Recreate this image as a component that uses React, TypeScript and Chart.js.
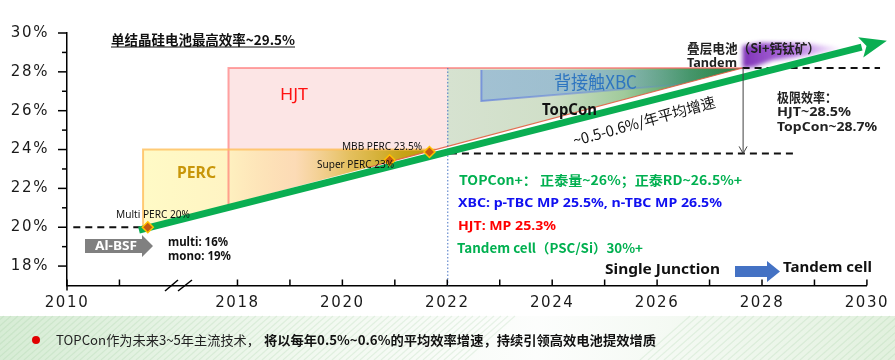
import React, { useEffect, useRef } from 'react';
import { Chart, registerables } from 'chart.js';

Chart.register(...registerables);

// ---------- axis data ----------
const X_TICK_YEARS = [2010, 2011, 2018, 2019, 2020, 2021, 2022, 2023, 2024, 2025, 2026, 2027, 2028, 2029, 2030];
const X_TICK_LABELS = ['2010', '', '2018', '', '2020', '', '2022', '', '2024', '', '2026', '', '2028', '', '2030'];
const Y_MIN = 17;
const Y_MAX = 30;
const Y_STEP = 1;

// broken x axis: real years -> axis units
const BREAK_REAL = [2010, 2011, 2015.5, 2018, 2031];
const BREAK_AXIS = [2014.75, 2015.75, 2016.29, 2018, 2031];

// ---------- series ----------
const TREND_YEARS = [2014.1, 2029.9];
const TREND_EFF = [19.85, 29.27];

const MILESTONE_NAMES = ['Multi PERC 20%', 'Super PERC 23%', 'MBB PERC 23.5%'];
const MILESTONE_YEARS = [2015.5, 2020.9, 2021.66];
const MILESTONE_EFF = [20.0, 23.45, 23.87];

const ZONE_NAMES = ['PERC', 'HJT', 'TopCon'];
const ZONE_START = [2014.75, 2017.75, 2022];
const ZONE_END = [2022, 2022, 2027.63];
const ZONE_TOP = [24, 28.2, 28.2];

const FRONTIER_YEARS = [2014.75, 2027.63];
const FRONTIER_EFF = [20.0, 28.2];

const XBC_YEARS = [2022.65, 2027.63];
const XBC_TOP = [28.1, 28.1];
const XBC_BOTTOM = [26.5, 27.6];

const TANDEM_YEARS = [2027.63, 2027.63, 2028.0, 2028.9, 2029.55, 2028.9, 2028.2, 2027.85];
const TANDEM_EFF = [28.2, 29.35, 29.5, 29.45, 29.2, 28.85, 28.6, 28.25];

const BASE_EFF = 20;
const BASE_YEARS = [2010.12, 2014.7];
const CURRENT_EFF = 23.8;
const CURRENT_YEARS = [2022.05, 2028.65];
const LIMIT_EFF = 28.2;
const LIMIT_YEARS = [2027.63, 2030.25];
const NOW_YEAR = 2022;

function toAxis(year: number): number {
  const n = BREAK_REAL.length;
  for (let i = 0; i < n - 1; i++) {
    if (year <= BREAK_REAL[i + 1] || i === n - 2) {
      const t = (year - BREAK_REAL[i]) / (BREAK_REAL[i + 1] - BREAK_REAL[i]);
      return BREAK_AXIS[i] + t * (BREAK_AXIS[i + 1] - BREAK_AXIS[i]);
    }
  }
  return year;
}

// ---------- styles ----------
const LAT = '"Noto Sans", "Noto Sans CJK SC", sans-serif';
const CJK = '"Noto Sans CJK SC", "Noto Sans", sans-serif';
const GREEN = '#0aae52';

type Note = { s: string; x: number; y: number; font: string; color: string; w?: number };
const NOTES: Note[] = [
  { s: 'HJT', x: 280, y: 95, font: `400 17px ${LAT}`, color: '#ff1010', w: 28 },
  { s: 'PERC', x: 177, y: 173, font: `700 16px ${LAT}`, color: '#c8960a', w: 39 },
  { s: '背接触XBC', x: 554, y: 82, font: `400 18px ${CJK}`, color: '#2e75c0', w: 83 },
  { s: 'TopCon', x: 542, y: 110, font: `700 16px ${LAT}`, color: '#111', w: 55 },
  { s: 'Multi PERC 20%', x: 116, y: 215.5, font: `400 10px ${LAT}`, color: '#111', w: 74 },
  { s: 'Super PERC 23%', x: 317, y: 165, font: `400 10px ${LAT}`, color: '#111', w: 77 },
  { s: 'MBB PERC 23.5%', x: 342, y: 147, font: `400 10px ${LAT}`, color: '#111', w: 80 },
  { s: 'multi: 16%', x: 168, y: 243, font: `700 12px ${LAT}`, color: '#111', w: 60 },
  { s: 'mono: 19%', x: 168, y: 257, font: `700 12px ${LAT}`, color: '#111', w: 63 },
  { s: 'Al-BSF', x: 95, y: 246.5, font: `700 13px ${LAT}`, color: '#fff', w: 42 },
  { s: '叠层电池（Si+钙钛矿）', x: 687, y: 48, font: `700 13px ${CJK}`, color: '#222', w: 133 },
  { s: 'Tandem', x: 687, y: 63, font: `700 13px ${LAT}`, color: '#222', w: 50 },
  { s: '极限效率：', x: 777, y: 97, font: `700 13px ${CJK}`, color: '#222', w: 60 },
  { s: 'HJT~28.5%', x: 777, y: 112, font: `700 13px ${LAT}`, color: '#222', w: 74 },
  { s: 'TopCon~28.7%', x: 777, y: 127, font: `700 13px ${LAT}`, color: '#222', w: 100 },
  { s: 'TOPCon+： 正泰量~26%；正泰RD~26.5%+', x: 459, y: 180, font: `700 13px ${CJK}`, color: '#00b050', w: 283 },
  { s: 'XBC: p-TBC MP 25.5%, n-TBC MP 26.5%', x: 458, y: 203, font: `700 13px ${LAT}`, color: '#1010f0', w: 264 },
  { s: 'HJT: MP 25.3%', x: 458, y: 226, font: `700 13px ${LAT}`, color: '#ff0000', w: 98 },
  { s: 'Tandem cell（PSC/Si）30%+', x: 457, y: 248, font: `700 13px ${CJK}`, color: '#00b050', w: 186 },
  { s: 'Single Junction', x: 605, y: 270, font: `700 15px ${LAT}`, color: '#111', w: 115 },
  { s: 'Tandem cell', x: 783, y: 268, font: `700 15px ${LAT}`, color: '#111', w: 89 },
  { s: 'TOPCon作为未来3~5年主流技术，', x: 56, y: 340, font: `400 13px ${CJK}`, color: '#222', w: 204 },
  { s: '将以每年0.5%~0.6%的平均效率增速，持续引领高效电池提效增质', x: 264, y: 340, font: `700 13px ${CJK}`, color: '#111', w: 392 },
];
const TITLE = '单结晶硅电池最高效率~29.5%';
const RATE_NOTE = '~0.5-0.6%/年平均增速';

function drawText(ctx: CanvasRenderingContext2D, n: Note) {
  ctx.save();
  ctx.font = n.font;
  ctx.fillStyle = n.color;
  ctx.textBaseline = 'middle';
  ctx.textAlign = 'left';
  const m = ctx.measureText(n.s).width;
  const sx = n.w ? n.w / m : 1;
  ctx.translate(n.x, n.y);
  ctx.scale(sx, 1);
  ctx.fillText(n.s, 0, 0);
  ctx.restore();
}

function line(ctx: CanvasRenderingContext2D, x0: number, y0: number, x1: number, y1: number) {
  ctx.beginPath();
  ctx.moveTo(x0, y0);
  ctx.lineTo(x1, y1);
  ctx.stroke();
}

const decor = {
  id: 'decor',
  beforeDraw(chart: any) {
    const ctx: CanvasRenderingContext2D = chart.ctx;
    const W = chart.width, H = chart.height;
    ctx.save();
    ctx.fillStyle = '#fff';
    ctx.fillRect(0, 0, W, H);
    const g = ctx.createLinearGradient(0, 0, W, 0);
    g.addColorStop(0, 'rgba(210,234,208,0.9)');
    g.addColorStop(0.35, 'rgba(238,247,236,0.8)');
    g.addColorStop(0.6, 'rgba(250,252,250,0.6)');
    g.addColorStop(1, 'rgba(222,239,218,0.9)');
    ctx.fillStyle = g;
    ctx.fillRect(0, 316, W, H - 316);
    ctx.strokeStyle = 'rgba(140,195,140,0.18)';
    ctx.lineWidth = 1.2;
    for (let i = -60; i < 470; i += 7) line(ctx, i, H, i + 50, 316);
    for (let i = 640; i < 950; i += 8) line(ctx, i, H, i + 50, 316);
    ctx.restore();
    (ctx as any).letterSpacing = '1.6px';
  },
  beforeDatasetsDraw(chart: any) {
    const ctx: CanvasRenderingContext2D = chart.ctx;
    (ctx as any).letterSpacing = '0px';
    const xs = chart.scales.x, ys = chart.scales.y, ca = chart.chartArea;
    const X = (yr: number) => xs.getPixelForValue(toAxis(yr));
    const Y = (v: number) => ys.getPixelForValue(v);
    const f0 = [X(FRONTIER_YEARS[0]), Y(FRONTIER_EFF[0])];
    const f1 = [X(FRONTIER_YEARS[1]), Y(FRONTIER_EFF[1])];
    const fy = (px: number) => f0[1] + (px - f0[0]) * (f1[1] - f0[1]) / (f1[0] - f0[0]);
    const fx = (py: number) => f0[0] + (py - f0[1]) * (f1[0] - f0[0]) / (f1[1] - f0[1]);

    ctx.save();
    ctx.beginPath();
    ctx.moveTo(f0[0], f0[1]);
    ctx.lineTo(f1[0], f1[1]);
    ctx.lineTo(f1[0], 0);
    ctx.lineTo(0, 0);
    ctx.lineTo(0, f0[1]);
    ctx.closePath();
    ctx.clip();
    for (const i of [1, 2, 0]) {
      const x0 = X(ZONE_START[i]), x1 = X(ZONE_END[i]), yt = Y(ZONE_TOP[i]);
      let fill: any = '#fce5e5';
      if (ZONE_NAMES[i] === 'TopCon') {
        const g = ctx.createLinearGradient(x0, 0, x1, 0);
        g.addColorStop(0, 'rgb(214,226,208)');
        g.addColorStop(0.35, 'rgb(208,223,200)');
        g.addColorStop(0.6, 'rgb(160,202,155)');
        g.addColorStop(0.82, 'rgb(70,155,90)');
        g.addColorStop(1, 'rgb(35,125,65)');
        fill = g;
      } else if (ZONE_NAMES[i] === 'PERC') {
        const g = ctx.createLinearGradient(x0, 0, x1, 0);
        g.addColorStop(0, 'rgba(255,250,195,0.95)');
        g.addColorStop(0.28, 'rgba(255,242,185,0.85)');
        g.addColorStop(0.5, 'rgba(252,212,150,0.6)');
        g.addColorStop(0.68, 'rgba(222,182,60,0.8)');
        g.addColorStop(0.85, 'rgba(196,160,12,0.95)');
        g.addColorStop(1, 'rgba(185,150,0,1)');
        fill = g;
      }
      ctx.fillStyle = fill;
      ctx.fillRect(x0, yt, x1 - x0, ca.bottom - yt);
    }
    // XBC zone
    {
      const a = [X(XBC_YEARS[0]), Y(XBC_TOP[0])];
      const b = [X(XBC_YEARS[1]), Y(XBC_TOP[1])];
      const c = [X(XBC_YEARS[1]), Y(XBC_BOTTOM[1])];
      const d = [X(XBC_YEARS[0]), Y(XBC_BOTTOM[0])];
      const g = ctx.createLinearGradient(a[0], 0, b[0], 0);
      g.addColorStop(0, 'rgba(145,182,212,0.75)');
      g.addColorStop(0.45, 'rgba(125,170,210,0.6)');
      g.addColorStop(0.8, 'rgba(70,135,160,0.25)');
      g.addColorStop(1, 'rgba(40,120,90,0)');
      ctx.fillStyle = g;
      ctx.beginPath();
      ctx.moveTo(a[0], a[1]); ctx.lineTo(b[0], b[1]); ctx.lineTo(c[0], c[1]); ctx.lineTo(d[0], d[1]);
      ctx.closePath();
      ctx.fill();
      const gs = ctx.createLinearGradient(a[0], 0, b[0], 0);
      gs.addColorStop(0, 'rgba(100,130,220,0.75)');
      gs.addColorStop(0.6, 'rgba(100,130,220,0.35)');
      gs.addColorStop(1, 'rgba(100,130,220,0)');
      ctx.strokeStyle = gs;
      ctx.lineWidth = 2;
      ctx.beginPath();
      ctx.moveTo(a[0], a[1]); ctx.lineTo(d[0], d[1]); ctx.lineTo(c[0], c[1]);
      ctx.stroke();
    }
    ctx.restore();

    // zone borders
    ctx.save();
    {
      const x0 = X(ZONE_START[1]), yt = Y(ZONE_TOP[1]);
      ctx.strokeStyle = 'rgba(255,105,105,0.6)';
      ctx.lineWidth = 2;
      ctx.beginPath();
      ctx.moveTo(x0, fy(x0)); ctx.lineTo(x0, yt); ctx.lineTo(f1[0], yt);
      ctx.stroke();
    }
    {
      const x0 = X(ZONE_START[0]), yt = Y(ZONE_TOP[0]);
      ctx.strokeStyle = 'rgba(255,190,90,0.8)';
      ctx.lineWidth = 2;
      ctx.beginPath();
      ctx.moveTo(x0, fy(x0)); ctx.lineTo(x0, yt); ctx.lineTo(fx(yt), yt);
      ctx.stroke();
    }
    ctx.strokeStyle = 'rgba(225,95,65,0.9)';
    ctx.lineWidth = 1.2;
    const fs = X(2020.5);
    line(ctx, fs, fy(fs), f1[0], f1[1]);

    // tandem glow
    ctx.filter = 'blur(2px)';
    const tg = ctx.createLinearGradient(X(TANDEM_YEARS[0]), 0, X(2029.55), 0);
    tg.addColorStop(0, 'rgba(120,40,180,0.95)');
    tg.addColorStop(0.5, 'rgba(155,75,212,0.8)');
    tg.addColorStop(1, 'rgba(200,140,240,0.1)');
    ctx.fillStyle = tg;
    ctx.beginPath();
    TANDEM_YEARS.forEach((yr, i) => {
      const px = X(yr), py = Y(TANDEM_EFF[i]);
      if (i === 0) ctx.moveTo(px, py); else ctx.lineTo(px, py);
    });
    ctx.closePath();
    ctx.fill();
    ctx.filter = 'none';

    // dashed reference lines
    ctx.strokeStyle = '#111';
    ctx.lineWidth = 2;
    ctx.setLineDash([7, 5]);
    line(ctx, X(BASE_YEARS[0]), Y(BASE_EFF), X(BASE_YEARS[1]), Y(BASE_EFF));
    line(ctx, X(CURRENT_YEARS[0]), Y(CURRENT_EFF), X(CURRENT_YEARS[1]), Y(CURRENT_EFF));
    line(ctx, X(LIMIT_YEARS[0]), Y(LIMIT_EFF), X(LIMIT_YEARS[1]), Y(LIMIT_EFF));
    // now line
    ctx.strokeStyle = '#4472c4';
    ctx.lineWidth = 1;
    ctx.setLineDash([1.5, 2]);
    line(ctx, X(NOW_YEAR) + 0.5, Y(LIMIT_EFF), X(NOW_YEAR) + 0.5, ca.bottom);
    ctx.setLineDash([]);
    ctx.restore();
  },
  afterDatasetsDraw(chart: any) {
    const ctx: CanvasRenderingContext2D = chart.ctx;
    (ctx as any).letterSpacing = '0px';
    const xs = chart.scales.x, ys = chart.scales.y, ca = chart.chartArea;
    const X = (yr: number) => xs.getPixelForValue(toAxis(yr));
    const Y = (v: number) => ys.getPixelForValue(v);
    ctx.save();

    // green arrow head
    const pts = chart.getDatasetMeta(1).data;
    const a = pts[pts.length - 2], b = pts[pts.length - 1];
    const dx = b.x - a.x, dy = b.y - a.y, L = Math.hypot(dx, dy);
    const ux = dx / L, uy = dy / L, nx = -uy, ny = ux;
    ctx.fillStyle = GREEN;
    ctx.beginPath();
    ctx.moveTo(b.x + ux * 26, b.y + uy * 26);
    ctx.lineTo(b.x - ux * 1 + nx * 10.5, b.y - uy * 1 + ny * 10.5);
    ctx.lineTo(b.x + ux * 5, b.y + uy * 5);
    ctx.lineTo(b.x - ux * 1 - nx * 10.5, b.y - uy * 1 - ny * 10.5);
    ctx.closePath();
    ctx.fill();

    // limit gap arrow
    const vx = X(LIMIT_YEARS[0]) + 0.5;
    const vy0 = Y(LIMIT_EFF), vy1 = Y(CURRENT_EFF);
    ctx.strokeStyle = '#404040';
    ctx.lineWidth = 1;
    line(ctx, vx, vy0, vx, vy1);
    ctx.beginPath();
    ctx.moveTo(vx - 4, vy1 - 7); ctx.lineTo(vx, vy1); ctx.lineTo(vx + 4, vy1 - 7);
    ctx.stroke();

    // Al-BSF arrow
    ctx.fillStyle = '#808080';
    ctx.beginPath();
    ctx.moveTo(85, 239); ctx.lineTo(142, 239); ctx.lineTo(142, 235); ctx.lineTo(153, 246);
    ctx.lineTo(142, 257); ctx.lineTo(142, 253); ctx.lineTo(85, 253);
    ctx.closePath();
    ctx.fill();

    // single junction -> tandem arrow
    ctx.fillStyle = '#4472c4';
    ctx.beginPath();
    ctx.moveTo(735, 266); ctx.lineTo(767, 266); ctx.lineTo(767, 261); ctx.lineTo(780, 271.5);
    ctx.lineTo(767, 282); ctx.lineTo(767, 277); ctx.lineTo(735, 277);
    ctx.closePath();
    ctx.fill();

    // axis tick marks (inside for x, outside for y)
    ctx.strokeStyle = '#000';
    ctx.lineWidth = 1.5;
    xs.ticks.forEach((t: any) => {
      const px = xs.getPixelForValue(t.value);
      line(ctx, px, ca.bottom, px, ca.bottom - 6);
    });
    ys.ticks.forEach((t: any) => {
      if (t.value <= Y_MIN) return;
      const py = ys.getPixelForValue(t.value);
      const len = t.value % 2 === 0 ? 9 : 5;
      line(ctx, ca.left - len, py, ca.left, py);
    });
    line(ctx, ca.left, ca.bottom, ca.left, ca.bottom + 5);
    // axis break marks
    line(ctx, 165, ca.bottom + 5.5, 178, ca.bottom - 5.5);
    line(ctx, 178, ca.bottom + 5.5, 192, ca.bottom - 5.5);

    // title with underline
    const title: Note = { s: TITLE, x: 111, y: 40, font: `700 13.5px ${CJK}`, color: '#111', w: 184 };
    drawText(ctx, title);
    ctx.strokeStyle = '#111';
    ctx.lineWidth = 1;
    line(ctx, 111, 47, 295, 47);

    NOTES.forEach((n) => drawText(ctx, n));

    // rotated rate note
    ctx.save();
    ctx.translate(644, 121);
    ctx.rotate(-15.5 * Math.PI / 180);
    ctx.font = `400 15px ${CJK}`;
    ctx.fillStyle = '#111';
    ctx.textBaseline = 'middle';
    const m = ctx.measureText(RATE_NOTE).width;
    ctx.scale(147 / m, 1);
    ctx.fillText(RATE_NOTE, -m / 2, 0);
    ctx.restore();

    // bullet
    ctx.fillStyle = '#e00000';
    ctx.beginPath();
    ctx.arc(36, 340, 4, 0, Math.PI * 2);
    ctx.fill();

    ctx.restore();
  },
};

export default function App() {
  const ref = useRef<HTMLCanvasElement>(null);
  useEffect(() => {
    const canvas = ref.current as HTMLCanvasElement;
    const chart = new Chart(canvas, {
      type: 'line',
      data: {
        datasets: [
          {
            label: 'milestones',
            data: MILESTONE_YEARS.map((yr, i) => ({ x: toAxis(yr), y: MILESTONE_EFF[i], name: MILESTONE_NAMES[i] })),
            showLine: false,
            pointStyle: 'rectRot',
            pointRadius: 5.5,
            pointBackgroundColor: '#c55a11',
            pointBorderColor: '#ffc000',
            pointBorderWidth: 1.5,
            order: 0,
          } as any,
          {
            label: 'trend',
            data: TREND_YEARS.map((yr, i) => ({ x: toAxis(yr), y: TREND_EFF[i] })),
            borderColor: GREEN,
            borderWidth: 7,
            borderCapStyle: 'butt',
            pointRadius: 0,
            clip: false,
            order: 1,
          } as any,
        ],
      },
      options: {
        animation: false,
        responsive: false,
        devicePixelRatio: 1,
        events: [],
        layout: { padding: { left: 0, top: 33, right: 25, bottom: 0 } },
        plugins: { legend: { display: false }, tooltip: { enabled: false } },
        scales: {
          x: {
            type: 'linear',
            min: toAxis(2010),
            max: toAxis(2030),
            afterBuildTicks: (s: any) => {
              s.ticks = X_TICK_YEARS.map((yr) => ({ value: toAxis(yr) }));
            },
            afterFit: (s: any) => {
              s.height = 74.5;
            },
            grid: { display: false, drawTicks: false },
            border: { display: true, color: '#000', width: 1.5 },
            ticks: {
              autoSkip: false,
              maxRotation: 0,
              minRotation: 0,
              padding: 9,
              color: '#1a1a1a',
              font: { family: 'DejaVu Sans', size: 15 },
              callback: (_v: any, i: number) => X_TICK_LABELS[i],
            },
          },
          y: {
            type: 'linear',
            min: Y_MIN,
            max: Y_MAX,
            afterFit: (s: any) => {
              s.width = 67;
            },
            grid: { display: false, drawTicks: false },
            border: { display: true, color: '#000', width: 1.5 },
            ticks: {
              stepSize: Y_STEP,
              autoSkip: false,
              padding: 18,
              color: '#1a1a1a',
              font: { family: 'DejaVu Sans', size: 15 },
              callback: (v: any) => (v % 2 === 0 && v > Y_MIN ? `${v}%` : ''),
            },
          },
        },
      } as any,
      plugins: [decor],
    });
    return () => chart.destroy();
  }, []);
  return (
    <div style={{ position: 'fixed', left: 0, top: 0, width: 895, height: 360, background: '#fff' }}>
      <canvas ref={ref} width={895} height={360} style={{ display: 'block', width: 895, height: 360 }} />
    </div>
  );
}
